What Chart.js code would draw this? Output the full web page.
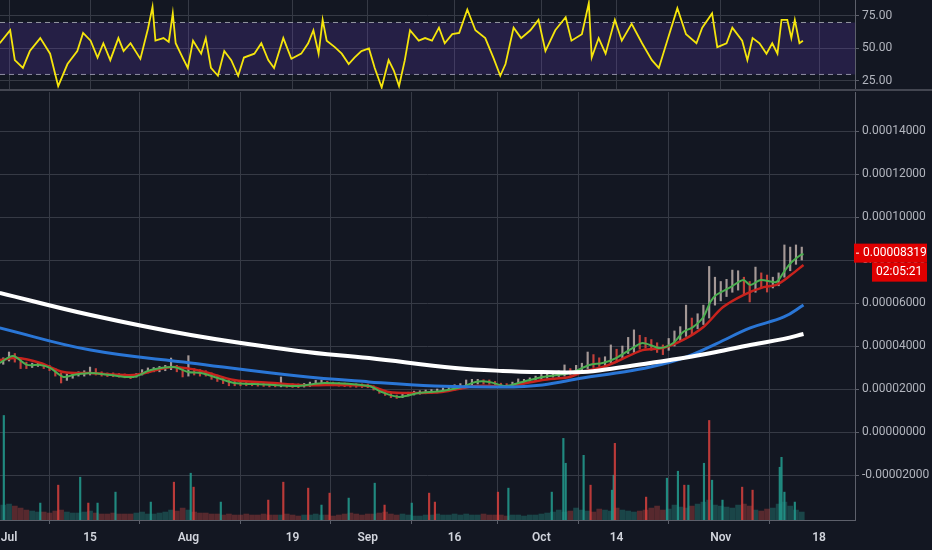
<!DOCTYPE html>
<html>
<head>
<meta charset="utf-8">
<script src="https://cdn.jsdelivr.net/npm/chart.js@4.4.1/dist/chart.umd.min.js"></script>
<style>
  html, body { margin: 0; padding: 0; background: #131722; }
  #wrap { position: relative; width: 932px; height: 550px; overflow: hidden; background: #131722; }
  #rsiBox { position: absolute; left: 0; top: 0; width: 932px; height: 89px; }
  #sep { position: absolute; left: 0; top: 89px; width: 932px; height: 2px; background: #434651; }
  #priceBox { position: absolute; left: 0; top: 91px; width: 932px; height: 459px; }
</style>
</head>
<body>
<div id="wrap">
  <div id="rsiBox"><canvas id="rsiChart"></canvas></div>
  <div id="sep"></div>
  <div id="priceBox"><canvas id="priceChart"></canvas></div>
</div>
<script>
// x is "days since Jul 1"; prices are in satoshi (1e-8)
const tickDays = [0, 14, 31, 49, 62, 77, 92, 105, 123, 140];
const tickLabels = ['Jul', '15', 'Aug', '19', 'Sep', '16', 'Oct', '14', 'Nov', '18'];

const rsiTicks = [25, 50, 75];
const rsiUpper = 70;
const rsiLower = 30;
const rsiDays = [-1.6,0.2,1.0,2.4,3.6,5.4,7.1,8.5,10.1,11.8,12.8,14.1,15.3,16.3,17.5,18.9,19.8,21.0,22.7,24.0,
  24.8,25.3,26.7,27.6,28.3,28.8,30.0,30.9,31.8,33.2,34.0,34.9,36.1,37.2,38.4,39.6,40.6,42.4,43.6,44.8,
  45.8,47.4,48.8,50.5,51.7,52.6,53.5,54.2,54.9,56.3,57.5,58.7,59.7,60.9,62.2,63.2,64.4,65.6,66.5,67.4,
  68.4,69.3,70.8,71.9,73.1,74.3,75.3,76.6,77.8,79.2,80.6,82.3,83.7,84.9,85.8,87.2,88.5,90.1,91.5,92.7,
  94.4,96.2,97.2,99.0,100.2,100.7,101.9,103.1,104.7,105.9,107.6,109.4,111.1,112.3,114.1,115.5,117.0,118.8,119.8,121.5,
  122.4,124.0,125.0,126.7,127.6,128.5,129.7,130.9,131.9,132.8,133.5,134.5,135.2,135.8,136.6,137.2];
const rsiVals = [54,64,41,35,48,58,46,21,38,48,62,56,43,54,41,58,48,54,42,65,
  82,56,58,55,77,54,43,35,56,46,58,35,29,48,41,29,43,46,54,41,
  35,58,42,46,54,64,46,72,56,51,46,38,43,48,50,35,20,41,33,21,
  41,64,56,58,56,66,54,61,62,80,64,58,43,29,38,66,58,64,72,48,
  64,74,56,61,85,43,58,46,72,56,69,54,41,35,61,81,61,54,66,77,
  51,54,66,56,41,58,54,46,54,46,72,72,58,72,54,56];

const priceTicks = [-2000, 0, 2000, 4000, 6000, 8000, 10000, 12000, 14000];

const whiteDays = [-1.6,14.1,31.4,50.0,62.2,77.1,85.3,92.2,99.1,104.9,110.8,116.5,122.2,128.1,133.9,137.3];
const whiteVals = [6470,5440,4510,3770,3440,2980,2840,2790,2790,2980,3210,3440,3720,4050,4330,4560];

const blueDays = [-1.6,14.1,31.4,50.0,62.2,73.6,85.3,92.2,99.1,104.9,110.8,116.5,122.2,128.1,133.9,137.3];
const blueVals = [4840,3810,3210,2600,2330,2140,2090,2190,2510,2740,3020,3440,4100,4840,5350,5910];

const greenDays = [-1.6,0.7,3.1,5.4,7.1,9.4,11.1,14.1,17.5,21.5,24.5,28.5,30.9,33.2,36.1,38.9,42.4,45.8,50.0,54.5,
  62.2,64.4,67.4,70.8,74.8,78.3,80.6,83.0,85.8,88.7,92.2,96.9,100.3,102.6,104.9,107.8,109.5,112.5,114.8,116.5,
  118.2,120.0,121.2,122.2,124.7,126.9,128.1,129.9,132.6,133.9,135.1,136.8,137.3];
const greenVals = [3210,3540,3120,3120,2980,2560,2650,2740,2650,2560,2880,3020,2790,2740,2510,2280,2230,2190,2140,2280,
  2140,1860,1630,1810,1910,2090,2330,2330,2140,2330,2560,2740,3120,3210,3440,3910,4140,3910,4140,4650,
  4880,5350,6050,6370,6740,7070,6840,7070,6980,7440,7860,8230,8280];

const redDays = [-1.6,1.4,5.4,9.4,14.1,21.5,26.2,28.5,33.2,38.9,45.8,50.0,62.2,65.6,69.1,74.8,80.6,86.5,92.2,96.9,
  99.1,102.6,104.9,109.5,113.0,116.5,120.0,123.4,126.9,130.4,132.6,135.1,137.3];
const redVals = [3350,3440,3210,2790,2740,2650,2930,3020,2840,2420,2280,2190,2140,1860,1810,1860,2140,2140,2420,2560,
  2790,3020,3260,3810,3910,4280,4880,5810,6370,6740,6840,7300,7770];

// daily candle range, first entry is day -1
const candleStart = -1;
const candleLow = [3150,3300,3250,2950,2950,3000,3050,2950,2850,2600,2280,2400,2500,2600,2600,2650,2650,2600,2580,2570,
  2550,2520,2480,2550,2650,2750,2800,2800,2850,2900,2800,2560,2600,2650,2600,2600,2450,2350,2250,2150,
  2150,2150,2150,2150,2130,2120,2100,2100,2100,2080,2070,2060,2090,2120,2170,2180,2180,2150,2130,2110,
  2090,2080,2070,2060,1950,1800,1700,1600,1560,1600,1680,1720,1760,1780,1800,1820,1840,1880,1950,2000,
  2100,2180,2230,2230,2220,2150,2080,2060,2120,2200,2240,2300,2380,2450,2500,2550,2580,2600,2650,2700,
  2850,2950,3000,3050,3100,3200,3250,3450,3650,3700,3850,3900,3800,3700,3600,3800,4000,4250,4450,4550,
  4800,5000,5300,5900,6100,6300,6500,6600,6400,6050,6500,6700,6510,6700,6800,7200,7500,7800,8000];
const candleHigh = [3450,3720,3650,3450,3250,3200,3250,3150,3100,2950,2750,2700,2750,2800,2850,3020,2950,2800,2750,2750,
  2720,2700,2650,2720,2900,2980,3000,3050,3100,3440,3100,3000,3550,2950,2900,2850,2750,2650,2550,2450,
  2400,2350,2330,2320,2310,2300,2280,2270,2560,2260,2250,2240,2260,2320,2400,2420,2360,2320,2300,2280,
  2260,2250,2240,2230,2150,2000,1900,1800,1720,1760,1850,1900,1920,1950,1970,2000,2050,2100,2200,2250,
  2420,2450,2450,2430,2420,2350,2270,2250,2320,2470,2450,2520,2600,2700,2750,2800,2850,3120,2950,3100,
  3200,3720,3600,3450,3500,4050,3850,4000,4400,4750,4500,4400,4300,4150,4050,4350,4700,4900,5900,5300,
  5500,5900,7700,7200,7000,7100,7530,7500,7200,7000,7670,7400,7300,7200,7400,8700,8600,8700,8600];

// volume: daily background mass (same start day as candles) plus single spikes
const volBase = [150,160,140,120,100,90,80,80,70,90,100,80,70,70,80,90,70,60,60,70,
  60,60,60,70,80,60,60,70,80,100,90,120,100,80,70,70,60,60,50,60,
  50,50,60,50,50,60,50,50,50,60,50,40,50,50,60,50,50,40,50,60,
  70,60,50,60,60,70,80,60,50,60,50,40,40,50,50,60,50,50,60,50,
  60,50,50,60,50,50,50,40,50,50,40,50,50,60,70,80,100,80,90,120,
  100,90,80,110,100,90,120,100,90,80,90,100,120,140,100,110,150,130,120,140,
  160,180,200,150,140,130,120,150,160,140,100,90,110,120,160,180,140,100,80];
const spikeDays = [-0.9,5.4,8.5,12.3,13.7,15.3,18.4,24.5,28.5,31.4,31.9,36.6,44.8,47.4,51.7,54.0,55.4,58.7,63.2,64.9,
  69.6,72.6,73.6,84.5,86.3,93.8,95.8,96.2,99.3,100.5,104.2,104.5,104.7,110.1,113.7,115.6,116.7,117.4,120.1,121.0,
  121.5,123.3,126.7,128.5,133.2,133.5,134.0,135.8];
const spikeVols = [1050,170,350,430,170,170,280,180,380,470,330,180,200,380,320,150,270,220,370,150,
  170,270,180,280,320,280,820,570,650,350,300,450,770,230,420,490,350,350,570,1000,
  400,200,330,300,530,630,280,180];
const spikeUp = [1,1,0,1,0,1,1,1,0,1,0,1,0,0,0,1,0,1,1,0,
  1,0,0,0,1,1,1,1,1,0,1,1,0,0,1,1,0,1,1,0,
  1,1,0,0,1,1,1,1];

const lastPrice = 8319;
const countdown = '02:05:21';

const xMin = -1.56, xMax = 146.2;
const GRID = '#363a45';
const AXIS = '#5d606b';
const FONT = 'Roboto';

const pairs = (xs, ys) => xs.map((x, i) => ({ x: x, y: ys[i] }));
const candleMid = candleLow.map((l, i) => (l + candleHigh[i]) / 2);
const candleUp = candleMid.map((m, i) => i === 0 || m >= candleMid[i - 1]);

function noPad(ax) {
    ax.paddingTop = 0; ax.paddingBottom = 0; ax.paddingLeft = 0; ax.paddingRight = 0;
}

function xScale(showLabels) {
    return {
        type: 'linear', min: xMin, max: xMax, offset: false,
        afterBuildTicks: ax => { ax.ticks = tickDays.map(v => ({ value: v })); },
        afterFit: ax => { ax.height = showLabels ? 30 : 0; noPad(ax); },
        ticks: {
            display: showLabels, autoSkip: false, maxRotation: 0, color: '#d1d4dc', padding: 7,
            font: { family: FONT, size: 12, weight: '600' },
            callback: (v, i) => tickLabels[i]
        },
        grid: { color: GRID, drawTicks: showLabels, tickLength: 4, tickColor: AXIS },
        border: { display: showLabels, color: AXIS }
    };
}

function yScale(min, max, ticks, fmt) {
    return {
        position: 'right', min: min, max: max,
        afterBuildTicks: ax => { ax.ticks = ticks.map(v => ({ value: v })); },
        afterFit: ax => { ax.width = 77; noPad(ax); },
        ticks: { color: '#b2b5be', padding: 3, font: { family: FONT, size: 12 }, callback: fmt },
        grid: { color: GRID, tickColor: AXIS, tickLength: 4 },
        border: { color: AXIS }
    };
}

new Chart(document.getElementById('rsiChart'), {
    type: 'line',
    data: {
        datasets: [
            { data: pairs(rsiDays, rsiVals), borderColor: '#f5e50c', borderWidth: 1.8, pointRadius: 0, tension: 0, order: 1 },
            { data: [{ x: xMin, y: rsiUpper }, { x: xMax, y: rsiUpper }], borderColor: '#9598a1', borderWidth: 1,
              borderDash: [5, 4], pointRadius: 0, fill: '+1', backgroundColor: 'rgba(104,64,196,0.22)', order: 2 },
            { data: [{ x: xMin, y: rsiLower }, { x: xMax, y: rsiLower }], borderColor: '#9598a1', borderWidth: 1,
              borderDash: [5, 4], pointRadius: 0, order: 3 }
        ]
    },
    options: {
        responsive: true, maintainAspectRatio: false, animation: false,
        layout: { padding: 0, autoPadding: false },
        plugins: { legend: { display: false }, tooltip: { enabled: false } },
        scales: {
            x: xScale(false),
            y: yScale(18.8, 87.3, rsiTicks, v => v.toFixed(2))
        }
    }
});

const priceTag = {
    id: 'priceTag',
    afterDraw(chart) {
        const ctx = chart.ctx;
        const y = chart.scales.y.getPixelForValue(lastPrice);
        const x0 = chart.chartArea.right;
        ctx.save();
        ctx.fillStyle = '#e00000';
        ctx.fillRect(x0 - 1, y - 9.5, 73, 19);
        ctx.fillRect(x0 + 17, y + 9.5, 55, 19);
        ctx.fillStyle = '#ffffff';
        ctx.fillRect(x0 + 1, y - 0.5, 3, 1);
        ctx.font = '12px ' + FONT;
        ctx.textBaseline = 'middle';
        ctx.fillText((lastPrice / 1e8).toFixed(8), x0 + 8, y);
        ctx.fillText(countdown, x0 + 21, y + 19);
        ctx.restore();
    }
};

new Chart(document.getElementById('priceChart'), {
    type: 'line',
    data: {
        datasets: [
            { data: pairs(whiteDays, whiteVals), borderColor: '#ffffff', borderWidth: 4, pointRadius: 0, tension: 0.4, order: 1 },
            { data: pairs(blueDays, blueVals), borderColor: '#2a76d6', borderWidth: 3, pointRadius: 0, tension: 0.4, order: 2 },
            { data: pairs(greenDays, greenVals), borderColor: '#4caf50', borderWidth: 2, pointRadius: 0, tension: 0.3, order: 3 },
            { data: pairs(redDays, redVals), borderColor: '#c8231d', borderWidth: 2.5, pointRadius: 0, tension: 0.3, order: 4 },
            {
                type: 'bar', order: 5, grouped: false, barThickness: 1.5,
                data: candleLow.map((l, i) => ({ x: candleStart + i, y: [l, candleHigh[i]] })),
                backgroundColor: candleUp.map(u => u ? 'rgba(214,196,190,0.75)' : 'rgba(226,72,62,0.85)')
            },
            {
                type: 'bar', order: 6, grouped: false, barThickness: 1.5, yAxisID: 'vol',
                data: pairs(spikeDays, spikeVols),
                backgroundColor: spikeUp.map(u => u ? 'rgba(34,150,138,0.9)' : 'rgba(205,62,60,0.9)')
            },
            {
                type: 'bar', order: 7, grouped: false, barThickness: 5, yAxisID: 'vol',
                data: volBase.map((v, i) => ({ x: candleStart + i, y: v })),
                backgroundColor: candleUp.map(u => u ? 'rgba(38,140,130,0.4)' : 'rgba(190,70,66,0.4)')
            }
        ]
    },
    options: {
        responsive: true, maintainAspectRatio: false, animation: false,
        layout: { padding: { top: 1 }, autoPadding: false },
        plugins: { legend: { display: false }, tooltip: { enabled: false } },
        scales: {
            x: xScale(true),
            y: yScale(-4093, 15814, priceTicks, v => (v / 1e8).toFixed(8)),
            vol: { display: false, min: 0, max: 4300 }
        }
    },
    plugins: [priceTag]
});
</script>
</body>
</html>
